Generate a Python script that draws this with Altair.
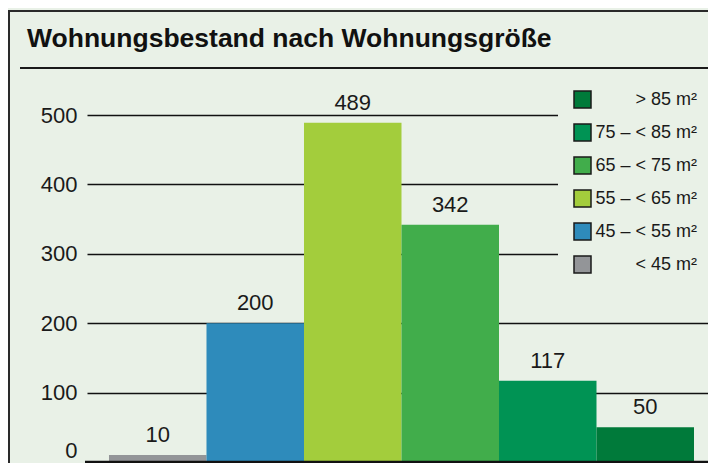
import altair as alt
import pandas as pd

# ---- data ----
categories = ["< 45 m²", "45 – < 55 m²", "55 – < 65 m²", "65 – < 75 m²", "75 – < 85 m²", "> 85 m²"]
values = [10, 200, 489, 342, 117, 50]
colors = ["#939598", "#2e8bbb", "#a3cd3c", "#41ad4b", "#009354", "#007a3a"]
y_ticks = [0, 100, 200, 300, 400, 500]
title_text = ["Wohnungsbestand nach Wohnungsgröße"]

BG = "#e9f1e7"
FONT = "Liberation Sans"
W, H = 621, 347
TOP = 107

df = pd.DataFrame({"cat": categories, "value": values})

x_enc = alt.X("cat:N", sort=categories, axis=None,
              scale=alt.Scale(paddingInner=0, paddingOuter=0.1846, align=0.611))
y_scale = alt.Scale(domain=[0, 500], nice=False)

# frame outline
frame = alt.Chart(pd.DataFrame({"k": [0]})).mark_rect(
    fill=None, stroke="#2a2a2a", strokeWidth=2
).encode(x=alt.value(-78), x2=alt.value(W + 40), y=alt.value(-TOP + 3), y2=alt.value(H + 60))

title = alt.Chart(pd.DataFrame({"t": title_text})).mark_text(
    font=FONT, fontSize=26.5, fontWeight="bold", align="left", baseline="alphabetic", color="#111111"
).encode(text="t:N", x=alt.value(-60), y=alt.value(-68))

underline = alt.Chart(pd.DataFrame({"k": [0]})).mark_rule(
    color="#1a1a1a", strokeWidth=2
).encode(x=alt.value(-67), x2=alt.value(W + 4), y=alt.value(-47))

bars = alt.Chart(df).mark_bar(stroke=None).encode(
    x=x_enc,
    y=alt.Y("value:Q", scale=y_scale, title=None,
            axis=alt.Axis(values=y_ticks, grid=True, gridColor="#111111", gridWidth=1.5,
                          domain=False, ticks=False, labelPadding=10, labelFontSize=22,
                          labelFont=FONT, labelColor="#1a1a1a", labelFlush=False,
                          labelBaseline={"condition": {"test": "datum.value == 0", "value": "bottom"},
                                         "value": "middle"})),
    color=alt.Color("cat:N",
                    scale=alt.Scale(domain=categories[::-1], range=colors[::-1]),
                    sort=categories[::-1],
                    legend=alt.Legend(title=None, orient="none", legendX=471, legendY=-40,
                                      padding=15, fillColor=BG, symbolType="square",
                                      symbolSize=289, symbolStrokeColor="#1a1a1a",
                                      symbolStrokeWidth=1.5, symbolOpacity=1,
                                      labelFontSize=18, labelFont=FONT, labelColor="#1a1a1a",
                                      labelAlign="right", labelOffset=105, labelLimit=300,
                                      rowPadding=10)),
)

halo = alt.Chart(df).mark_text(
    font=FONT, fontSize=22, baseline="bottom", dy=-8, color=BG, stroke=BG, strokeWidth=8
).encode(x=x_enc, y=alt.Y("value:Q", scale=y_scale), text="value:Q")

labels = alt.Chart(df).mark_text(
    font=FONT, fontSize=22, baseline="bottom", dy=-8, color="#1a1a1a"
).encode(x=x_enc, y=alt.Y("value:Q", scale=y_scale), text="value:Q")

zero = alt.Chart(pd.DataFrame({"v": [0]})).mark_rule(color="#111111", strokeWidth=2.5).encode(
    y=alt.Y("v:Q", scale=y_scale), x=alt.value(-2), x2=alt.value(W))

chart = alt.layer(frame, title, underline, bars, halo, labels, zero).properties(
    width=W, height=H,
    autosize=alt.AutoSizeParams(type="none"),
    padding={"left": 79, "top": TOP, "right": 0, "bottom": 1},
    background=BG,
).configure_view(stroke=None)

chart.save("out.html", embed_options={"renderer": "svg", "actions": False})
